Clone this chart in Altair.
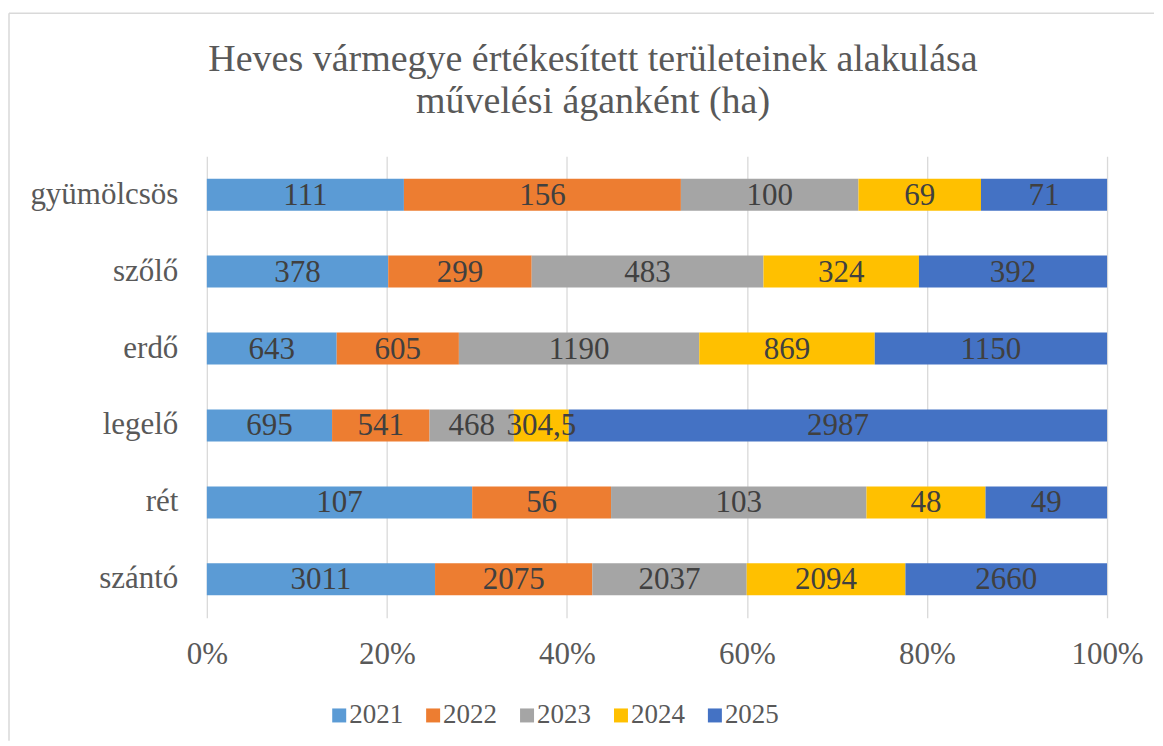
import altair as alt
import pandas as pd

categories = ["gyümölcsös", "szőlő", "erdő", "legelő", "rét", "szántó"]
years = ["2021", "2022", "2023", "2024", "2025"]
v2021 = [111, 378, 643, 695, 107, 3011]
v2022 = [156, 299, 605, 541, 56, 2075]
v2023 = [100, 483, 1190, 468, 103, 2037]
v2024 = [69, 324, 869, 304.5, 48, 2094]
v2025 = [71, 392, 1150, 2987, 49, 2660]
colors = ["#5B9BD5", "#ED7D31", "#A5A5A5", "#FFC000", "#4472C4"]
tick_values = [0, 0.2, 0.4, 0.6, 0.8, 1.0]

rows = []
for yr, vals in zip(years, [v2021, v2022, v2023, v2024, v2025]):
    for c, v in zip(categories, vals):
        rows.append({"cat": c, "year": yr, "value": v})
df = pd.DataFrame(rows)

FONT = "Liberation Serif"

base = (
    alt.Chart(df)
    .transform_joinaggregate(total="sum(value)", groupby=["cat"])
    .transform_window(cum="sum(value)", groupby=["cat"],
                      sort=[alt.SortField("year")], frame=[None, 0])
    .transform_calculate(
        start="(datum.cum - datum.value) / datum.total",
        end="datum.cum / datum.total",
        mid="(datum.cum - datum.value / 2) / datum.total",
        label="replace(toString(datum.value), '.', ',')",
    )
)

yenc = alt.Y(
    "cat:N", sort=categories,
    scale=alt.Scale(paddingInner=0.584, paddingOuter=0.292),
    axis=alt.Axis(title=None, labelFontSize=31, labelFont=FONT, labelColor="#595959",
                  ticks=False, domain=False, labelPadding=29, grid=False),
)

bars = base.mark_bar().encode(
    x=alt.X("start:Q", scale=alt.Scale(domain=[0, 1], nice=False),
            axis=alt.Axis(title=None, format=".0%", values=tick_values,
                          labelFontSize=31, labelFont=FONT, labelColor="#595959",
                          ticks=False, domain=False, labelPadding=22,
                          labelFlush=False,
                          grid=True, gridColor="#d9d9d9", gridWidth=1.3)),
    x2="end:Q",
    y=yenc,
    color=alt.Color("year:N", scale=alt.Scale(domain=years, range=colors),
                    legend=alt.Legend(title=None, orient="none", direction="horizontal",
                                      legendX=119, legendY=546, padding=0,
                                      symbolType="square", symbolSize=196,
                                      symbolStrokeWidth=0,
                                      labelFontSize=27, labelFont=FONT,
                                      labelColor="#595959", columnPadding=16,
                                      labelOffset={"expr": "-3.5"})),
)

texts = base.mark_text(font=FONT, fontSize=31, color="#404040",
                       align="center", baseline="middle", dy=1).encode(
    x="mid:Q", y=yenc, text="label:N")

frame_df = pd.DataFrame({"a": [0]})
left_line = alt.Chart(frame_df).mark_rule(color="#d9d9d9", strokeWidth=1.5).encode(
    x=alt.value(-198), y=alt.value(-143), y2=alt.value(585))
top_line = alt.Chart(frame_df).mark_rule(color="#d9d9d9", strokeWidth=1.5).encode(
    x=alt.value(-198), x2=alt.value(948), y=alt.value(-143))

chart = (
    alt.layer(bars, texts, left_line, top_line)
    .properties(
        width=901, height=462,
        padding={"left": 0, "top": 4, "right": 0, "bottom": 0},
        title=alt.TitleParams(
            text=["Heves vármegye értékesített területeinek alakulása",
                  "művelési áganként (ha)"],
            fontSize=38, font=FONT, color="#595959", fontWeight="normal",
            anchor="middle", dx=-64, lineHeight=43, offset=-109),
    )
    .configure_view(stroke=None)
)

chart.save("out.html", embed_options={"renderer": "svg", "actions": False})
